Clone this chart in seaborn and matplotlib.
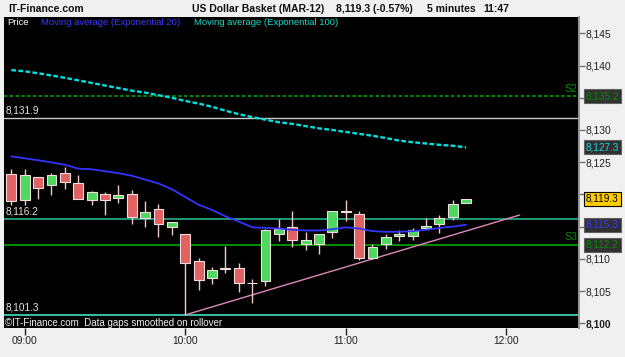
import matplotlib
matplotlib.use("Agg")
import matplotlib.pyplot as plt
import matplotlib.transforms as mtrans
import seaborn as sns

# ---------------- data ----------------
times = ["08:55", "09:00", "09:05", "09:10", "09:15", "09:20", "09:25", "09:30",
         "09:35", "09:40", "09:45", "09:50", "09:55", "10:00", "10:05", "10:10",
         "10:15", "10:20", "10:25", "10:30", "10:35", "10:40", "10:45", "10:50",
         "10:55", "11:00", "11:05", "11:10", "11:15", "11:20", "11:25", "11:30",
         "11:35", "11:40", "11:45"]
opens = [8123.1, 8119.2, 8122.65, 8121.4, 8123.4, 8121.7, 8119.1, 8120.1,
         8119.4, 8120.1, 8116.3, 8117.8, 8115.0, 8113.8, 8109.6, 8107.0,
         8108.6, 8108.6, 8106.3, 8106.5, 8113.8, 8115.0, 8112.3, 8112.3,
         8114.1, 8117.4, 8116.95, 8110.1, 8112.3, 8113.5, 8113.5, 8114.8,
         8115.4, 8116.5, 8118.6]
highs = [8123.9, 8123.9, 8122.7, 8123.4, 8124.3, 8123.0, 8120.6, 8120.4,
         8121.5, 8120.7, 8118.9, 8118.5, 8115.7, 8113.8, 8110.2, 8108.8,
         8112.0, 8109.3, 8106.8, 8114.6, 8116.2, 8117.4, 8114.2, 8113.8,
         8117.4, 8119.2, 8117.5, 8112.3, 8113.8, 8114.5, 8114.8, 8116.3,
         8116.8, 8119.2, 8119.3]
lows = [8118.4, 8118.4, 8119.3, 8119.9, 8120.8, 8119.3, 8118.4, 8116.8,
        8118.6, 8115.4, 8115.0, 8113.4, 8113.7, 8101.3, 8105.2, 8106.1,
        8107.8, 8104.8, 8103.1, 8105.8, 8112.8, 8111.8, 8111.3, 8110.8,
        8113.2, 8115.8, 8109.8, 8110.0, 8111.6, 8112.8, 8113.0, 8114.5,
        8114.0, 8116.1, 8118.6]
closes = [8119.0, 8123.0, 8121.05, 8123.0, 8121.9, 8119.3, 8120.3, 8119.1,
          8119.9, 8116.5, 8117.3, 8115.4, 8115.7, 8109.3, 8106.7, 8108.2,
          8108.4, 8106.2, 8106.2, 8114.5, 8114.7, 8112.9, 8112.9, 8113.8,
          8117.4, 8117.3, 8110.2, 8111.9, 8113.4, 8113.9, 8114.5, 8115.1,
          8116.3, 8118.5, 8119.3]
ema20 = [8125.9, 8125.6, 8125.3, 8124.97, 8124.6, 8124.0, 8123.9, 8123.6,
         8123.3, 8122.9, 8122.3, 8121.7, 8120.8, 8119.6, 8118.4, 8117.6,
         8116.6, 8115.8, 8114.9, 8114.8, 8114.7, 8114.5, 8114.4, 8114.4,
         8114.6, 8114.9, 8114.7, 8114.3, 8114.2, 8114.2, 8114.3, 8114.5,
         8114.8, 8115.0, 8115.3]
ema100 = [8139.3, 8139.1, 8138.8, 8138.45, 8138.1, 8137.7, 8137.3, 8136.9,
          8136.5, 8136.1, 8135.8, 8135.4, 8135.0, 8134.5, 8134.1, 8133.6,
          8133.0, 8132.45, 8132.0, 8131.6, 8131.2, 8130.95, 8130.6, 8130.25,
          8130.0, 8129.7, 8129.4, 8129.1, 8128.75, 8128.35, 8128.1, 8127.9,
          8127.7, 8127.55, 8127.3]
trend_times = ["10:00", "12:05"]
trend_values = [8101.3, 8116.8]

level_s2 = 8135.2
level_high = 8131.9
level_mid = 8116.2
level_s3 = 8112.2
level_low = 8101.3

ytick_values = [8100, 8105, 8110, 8115, 8120, 8125, 8130, 8135, 8140, 8145]
ytick_hidden = [8115, 8120, 8135]   # covered by the value boxes
xtick_labels = ["09:00", "10:00", "11:00", "12:00"]

last_price = 8119.3
last_ema20 = 8115.3
last_ema100 = 8127.3


def to_min(t):
    h, m = t.split(":")
    return (int(h) - 9) * 60 + int(m)


xm = [to_min(t) for t in times]
trend_x = [to_min(t) for t in trend_times]
xtick_pos = [to_min(t) for t in xtick_labels]

# ---------------- figure ----------------
sns.set_style("dark")
plt.rcParams["font.family"] = ["Liberation Sans", "DejaVu Sans"]

W, H = 625, 357
fig = plt.figure(figsize=(W / 100, H / 100), dpi=100, facecolor="#f0f0f0")


def P(x, y):
    return x / W, 1 - y / H


ax = fig.add_axes([4 / W, 1 - 328 / H, 575 / W, 311 / H])
ax.set_facecolor("black")
ax.grid(False)

# level lines
ax.axhline(level_s2, color="#00b400", lw=1.1, ls=(0, (2.2, 1.6)), zorder=1)
ax.axhline(level_high, color="#c8c8c8", lw=1.0, zorder=1)
ax.axhline(level_mid, color="#26b48e", lw=1.2, zorder=1)
ax.axhline(level_s3, color="#00a800", lw=1.2, zorder=1)
ax.axhline(level_low, color="#40e0c0", lw=1.2, zorder=1)

# trend line
sns.lineplot(x=trend_x, y=trend_values, ax=ax, color="#e088bc", lw=1.0, zorder=2)

# candles
ax.vlines(xm, lows, highs, color="#f0c8c8", lw=1.0, zorder=3)
for x, o, c in zip(xm, opens, closes):
    up = c >= o
    body = max(abs(c - o), 0.06)
    ax.bar(x, body, bottom=min(o, c), width=3.7,
           color="#4fd860" if up else "#e06262",
           edgecolor="#f4dcdc", linewidth=0.8, zorder=4)

# moving averages
sns.lineplot(x=xm, y=ema20, ax=ax, color="#3434ff", lw=1.3, zorder=5)
sns.lineplot(x=xm, y=ema100, ax=ax, color="#00e0e0", lw=1.7,
             linestyle=(0, (2, 1)), zorder=5)

ax.set_xlim(-7.74, 207.2)
ax.set_ylim(8099.27, 8147.53)

# axes styling
for s in ["left", "top", "bottom"]:
    ax.spines[s].set_visible(False)
ax.spines["right"].set_visible(True)
ax.spines["right"].set_color("#9a9a9a")
ax.spines["right"].set_linewidth(1.4)

ax.yaxis.tick_right()
ax.set_yticks(ytick_values)
ax.set_yticklabels(["" if v in ytick_hidden else f"{v:,}" for v in ytick_values])
ax.tick_params(axis="y", direction="out", length=4, width=1, color="#707070",
               labelsize=7.4, labelcolor="#202020", pad=1, right=True, left=False)
for lab in ax.get_yticklabels():
    if lab.get_text() == "8,100":
        lab.set_fontweight("bold")
ax.set_xticks(xtick_pos)
ax.set_xticklabels(xtick_labels)
ax.tick_params(axis="x", direction="out", length=5, width=1, color="#202020",
               labelsize=7.4, labelcolor="#202020", pad=0.5, bottom=True)
ax.set_xlabel("")
ax.set_ylabel("")

# right value boxes
bt = mtrans.blended_transform_factory(ax.transAxes, ax.transData)
boxes = [
    (level_s2, f"{level_s2:,.1f}", "#0a8a0a", "#303030", "#606060"),
    (last_ema100, f"{last_ema100:,.1f}", "#20d8d8", "#303030", "#606060"),
    (last_price, f"{last_price:,.1f}", "#000000", "#ffcc00", "#000000"),
    (last_ema20, f"{last_ema20:,.1f}", "#3a3aff", "#303030", "#606060"),
    (level_s3, f"{level_s3:,.1f}", "#0a8a0a", "#303030", "#606060"),
]
for v, txt, tc, fc, ec in boxes:
    ax.text(1.012, v, txt, transform=bt, ha="left", va="center", fontsize=7.2,
            color=tc, zorder=20, clip_on=False,
            bbox=dict(boxstyle="square,pad=0.2", fc=fc, ec=ec, lw=0.8))

# S labels
ax.text(0.997, level_s2 + 0.4, "S2", transform=bt, ha="right", va="bottom",
        fontsize=7.6, color="#0a8a0a", zorder=6)
ax.text(0.997, level_s3 + 0.4, "S3", transform=bt, ha="right", va="bottom",
        fontsize=7.6, color="#0a8a0a", zorder=6)

# left level labels
for v in [level_high, level_mid, level_low]:
    ax.text(0.002, v + 0.35, f"{v:,.1f}", transform=bt, ha="left", va="bottom",
            fontsize=7.2, color="#f0e0e0", zorder=6)

# legend row
fig.text(*P(7, 22.5), "Price", color="white", fontsize=6.8, va="center")
fig.text(*P(41, 22.5), "Moving average (Exponential 20)", color="#3a3aff",
         fontsize=6.8, va="center")
fig.text(*P(194, 22.5), "Moving average (Exponential 100)", color="#20d8c8",
         fontsize=6.8, va="center")

# footer
fig.text(*P(5, 323.5), "\u00a9IT-Finance.com  Data gaps smoothed on rollover",
         color="#f0f0f0", fontsize=7.0, va="center")

# title row
tk = dict(fontsize=7.5, fontweight="bold", color="#101010", va="center")
fig.text(*P(8, 9.5), "IT-Finance.com", **tk)
fig.text(*P(192, 9.5), "US Dollar Basket (MAR-12)", **tk)
fig.text(*P(336, 9.5), "8,119.3 (-0.57%)", **tk)
fig.text(*P(427, 9.5), "5 minutes", **tk)
fig.text(*P(483, 9.5), "11:47", **tk)

fig.savefig("out.png", dpi=100, facecolor=fig.get_facecolor())
